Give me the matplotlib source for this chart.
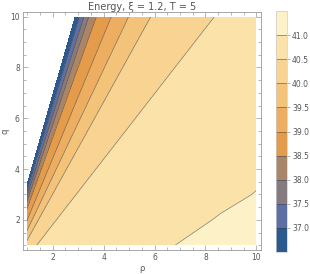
import numpy as np
import matplotlib
matplotlib.use("Agg")
import matplotlib.pyplot as plt
from matplotlib.patches import Rectangle

# mesh rows (q) and mesh columns: each column is a straight line in the
# (rho, q) plane, given by where it meets q = 1 and q = 10
q_rows = [1, 2, 3, 4, 5, 6, 7, 8, 9, 10]

# left part: the fan of contour lines (white edge, 37.0 ... 40.5)
rho_bottom_left = [0.21, 0.314, 0.345, 0.380, 0.416, 0.474, 0.587, 0.718, 0.886, 1.368]
rho_top_left = [2.33, 2.886, 3.046, 3.226, 3.416, 3.716, 4.302, 4.982, 5.852, 8.35]
energy_left = [34.8, 36.5, 37.0, 37.5, 38.0, 38.5, 39.0, 39.5, 40.0, 40.5]

# right part: between the 40.5 line and rho = 10
rho_bottom_right = [3.0, 5.0, 6.8, 8.4, 10.0]
rho_top_right = [8.8, 9.2, 9.5, 9.75, 10.0]
energy_right = [
    [40.66, 40.84, 41.00, 41.08, 41.15],
    [40.63, 40.78, 40.92, 41.02, 41.08],
    [40.61, 40.74, 40.84, 40.94, 41.01],
    [40.59, 40.70, 40.79, 40.87, 40.95],
    [40.58, 40.67, 40.75, 40.82, 40.89],
    [40.57, 40.64, 40.71, 40.77, 40.83],
    [40.56, 40.62, 40.68, 40.73, 40.78],
    [40.55, 40.60, 40.65, 40.69, 40.73],
    [40.54, 40.58, 40.62, 40.66, 40.69],
    [40.53, 40.56, 40.59, 40.62, 40.65],
]

levels = [36.5, 37.0, 37.5, 38.0, 38.5, 39.0, 39.5, 40.0, 40.5, 41.0, 41.5]
band_colors = ["#2b5a8e", "#5d6fa3", "#847a80", "#a9856a", "#e49c4b",
               "#eeae62", "#f4c37a", "#f8d391", "#fbe2a8", "#fdf1c7"]

# build the mesh
rb = np.array(rho_bottom_left + rho_bottom_right)
rt = np.array(rho_top_left + rho_top_right)
qq = np.array(q_rows, dtype=float)
frac = (qq - qq[0]) / (qq[-1] - qq[0])
X = rb[None, :] + (rt - rb)[None, :] * frac[:, None]
Y = np.repeat(qq[:, None], len(rb), axis=1)
Z = np.hstack([np.tile(energy_left, (len(q_rows), 1)), np.array(energy_right)])

grey = "#555555"
plt.rcParams["font.family"] = "DejaVu Sans"

fig = plt.figure(figsize=(3.1, 2.74), dpi=100)
ax = fig.add_axes([0.073, 0.088, 0.769, 0.868])
cax = fig.add_axes([0.890, 0.080, 0.036, 0.880])

cf = ax.contourf(X, Y, Z, levels=levels, colors=band_colors)
cs = ax.contour(X, Y, Z, levels=levels[1:-1], colors="#3a3a3a",
                linewidths=0.55, alpha=0.6)
clip = Rectangle((1, 1), 9, 9, transform=ax.transData)
cf.set_clip_path(clip)
cs.set_clip_path(clip)

ax.set_xlim(0.82, 10.18)
ax.set_ylim(0.82, 10.18)
ax.set_xticks([2, 4, 6, 8, 10])
ax.set_yticks([2, 4, 6, 8, 10])
ax.set_xticks(np.arange(1, 10.01, 0.5), minor=True)
ax.set_yticks(np.arange(1, 10.01, 0.5), minor=True)
ax.tick_params(which="both", direction="in", top=True, right=True,
               color="#999999", width=0.5, labelsize=5.5, labelcolor=grey, pad=2)
ax.tick_params(which="major", length=3.5)
ax.tick_params(which="minor", length=2)
for sp in ax.spines.values():
    sp.set_color("#999999")
    sp.set_linewidth(0.6)

ax.set_title("Energy, ξ = 1.2, T = 5", fontsize=7, color=grey, pad=1.5)
ax.set_xlabel("ρ", fontsize=6, color=grey, labelpad=2)
ax.set_ylabel("q", fontsize=6, color=grey, labelpad=0.5)

cbar = fig.colorbar(cf, cax=cax)
cbar.add_lines(cs)
cbar.set_ticks(levels[1:-1])
cbar.set_ticklabels([f"{v:.1f}" for v in levels[1:-1]])
cax.tick_params(length=2, width=0.5, color="#999999", labelsize=5.5,
                labelcolor=grey, pad=1.5)
cbar.outline.set_edgecolor("#cccccc")
cbar.outline.set_linewidth(0.5)

fig.savefig("out.png", dpi=100)
